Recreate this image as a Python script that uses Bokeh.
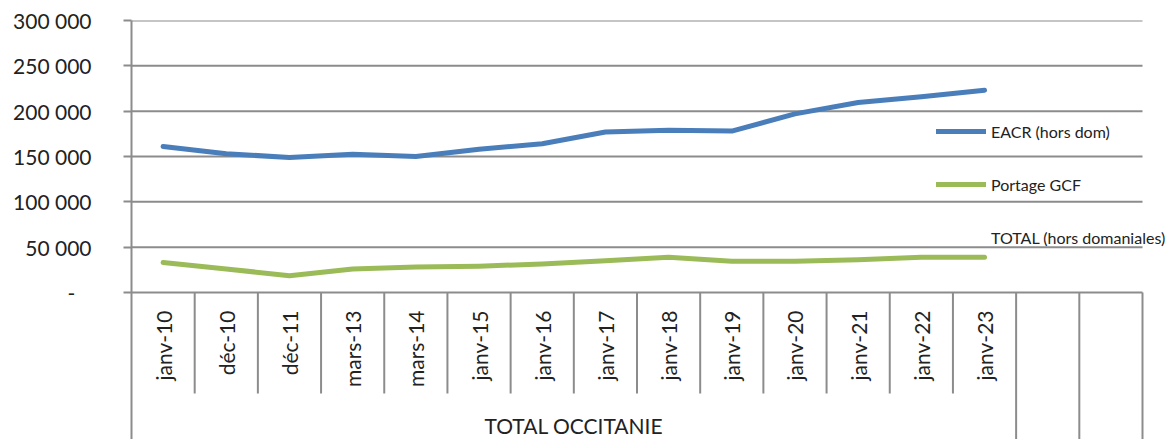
import numpy as np
from bokeh.plotting import figure
from bokeh.models import Range1d, FixedTicker, Legend, LegendItem
from bokeh.embed import file_html
from bokeh.resources import INLINE
from bokeh.core.properties import value

# ---- data ----
months = ["janv-10", "déc-10", "déc-11", "mars-13", "mars-14", "janv-15", "janv-16",
          "janv-17", "janv-18", "janv-19", "janv-20", "janv-21", "janv-22", "janv-23"]
empty_slots = ["", ""]
group_name = "TOTAL OCCITANIE"
eacr = [161000, 153000, 149000, 152500, 150000, 158000, 164000,
        177000, 179000, 178000, 197000, 209500, 216000, 223000]
gcf = [33000, 26000, 18500, 26000, 28000, 29000, 31500,
       35000, 39000, 34500, 34500, 36000, 39000, 39000]
series_names = ["EACR (hors dom)", "Portage GCF", "TOTAL (hors domaniales)"]
y_ticks = [0, 50000, 100000, 150000, 200000, 250000, 300000]
y_tick_labels = ["-\u00a0\u00a0\u00a0", "50 000", "100 000", "150 000", "200 000", "250 000", "300 000"]

# ---- layout constants ----
FONT = "Lato"
TXT = "#222222"
GRID = "#8c8c8c"
n_slots = len(months) + len(empty_slots)
W, H = 1176, 439
LEFT, TOP = 131, 20
frame_w = W - LEFT
frame_h = H - TOP
slots_px = 1011          # width covered by the 16 category slots
zero_px = 272            # pixels from frame top to the 0 line
px_per_unit = zero_px / 300000.0
y_min = -(frame_h - zero_px) / px_per_unit
tick_bottom = -101 / px_per_unit
x_end = n_slots * frame_w / slots_px

p = figure(width=W, height=H, x_range=Range1d(0, x_end),
           y_range=Range1d(y_min, 300000), x_axis_location=None,
           output_backend="svg", toolbar_location=None,
           min_border_left=LEFT, min_border_top=TOP, min_border_right=0,
           min_border_bottom=0)
p.outline_line_color = None
p.xgrid.visible = False
p.ygrid.visible = False

ticker = FixedTicker(ticks=y_ticks)
p.yaxis.ticker = ticker
p.yaxis.major_label_overrides = {t: l for t, l in zip(y_ticks, y_tick_labels)}
p.yaxis.minor_tick_line_color = None
p.yaxis.major_tick_out = 8
p.yaxis.major_tick_in = 0
p.yaxis.axis_line_color = GRID
p.yaxis.axis_line_width = 2
p.yaxis.major_tick_line_color = GRID
p.yaxis.major_tick_line_width = 2
p.yaxis.major_label_text_font = FONT
p.yaxis.major_label_text_font_size = "21px"
p.yaxis.major_label_text_color = TXT
p.yaxis.major_label_standoff = 32

# horizontal gridlines, limited to the category slots
p.segment(x0=[0] * len(y_ticks), y0=y_ticks, x1=[n_slots] * len(y_ticks), y1=y_ticks,
          line_color=GRID, line_width=2)

centers = np.arange(len(months)) + 0.5

# category separators
inner = list(range(1, len(months)))
p.segment(x0=inner, y0=[0] * len(inner), x1=inner, y1=[tick_bottom] * len(inner),
          line_color=GRID, line_width=2)
outer = list(range(len(months), n_slots + 1))
p.segment(x0=outer, y0=[0] * len(outer), x1=outer, y1=[y_min] * len(outer),
          line_color=GRID, line_width=2)

# category labels
p.text(x=centers, y=[0] * len(months), text=months, angle=np.pi / 2,
       text_align="right", text_baseline="middle", y_offset=18,
       text_font=value(FONT), text_font_size="21px", text_color=TXT)
p.text(x=[len(months) / 2], y=[0], text=[group_name], y_offset=133,
       text_align="center", text_baseline="middle",
       text_font=value(FONT), text_font_size="21px", text_color=TXT)

# series
r1 = p.line(centers, eacr, line_color="#4a7ebb", line_width=5,
            line_join="round", line_cap="round")
r2 = p.line(centers, gcf, line_color="#9bbb59", line_width=5,
            line_join="round", line_cap="round")
r3 = p.line(x=[], y=[], line_color=None)

legend = Legend(items=[LegendItem(label=series_names[0], renderers=[r1]),
                       LegendItem(label=series_names[1], renderers=[r2]),
                       LegendItem(label=series_names[2], renderers=[r3])],
                location=(805, 192), orientation="vertical",
                glyph_width=50, glyph_height=20, label_height=20,
                label_standoff=5, spacing=33, padding=0, margin=0,
                border_line_color=None, background_fill_alpha=0,
                label_text_font=FONT, label_text_font_size="16px",
                label_text_color=TXT, label_text_baseline="middle")
p.add_layout(legend)

open("out.html", "w").write(file_html(p, INLINE))
